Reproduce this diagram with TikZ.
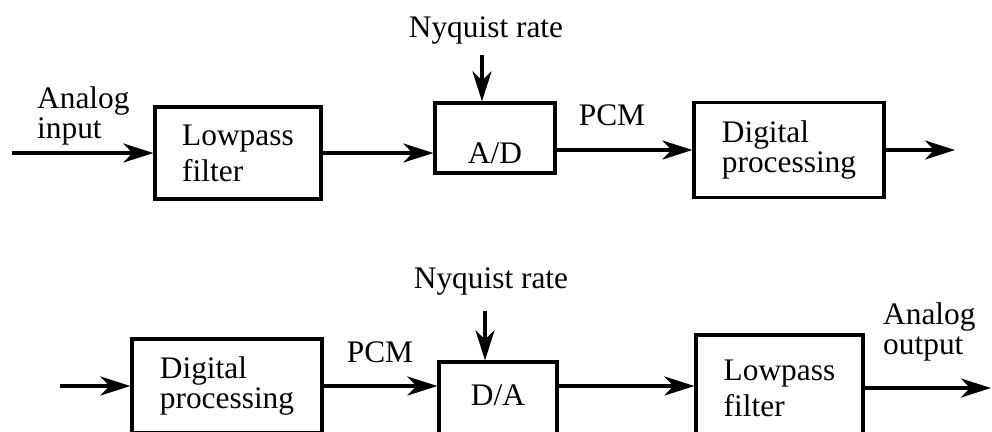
\documentclass[tikz,border=0pt]{standalone}
\usepackage{fontspec}
\setmainfont{Liberation Serif}
\usetikzlibrary{arrows.meta, positioning, calc}
\tikzset{
    blk/.style={rectangle, draw=black, line width=3.2bp, inner sep=0pt, font=\fontsize{31.5}{31}\selectfont},
    lpf/.style={blk, align=left, font=\fontsize{31.5}{36}\selectfont},
    lbl/.style={align=left, inner sep=0pt, font=\fontsize{31.5}{30}\selectfont},
    arr/.style={-{Stealth[length=30bp, width=19bp, inset=9bp]}, line width=3.6bp, black}
}

\begin{document}
\begin{tikzpicture}[x=1bp, y=-1bp]
  \useasboundingbox (0,0) rectangle (992,431);
  \clip (0,0) rectangle (992,431);
  % sampling side
  \node[lpf, minimum width=166bp, minimum height=92bp] (lpfA) at (238,153) {Lowpass\\filter};
  \node[blk, minimum width=120bp, text height=60bp, text depth=10bp, anchor=base] (adc) at (495,163) {A/D};
  \node[blk, align=left, minimum width=190bp, minimum height=95bp] (dspA) at (789,150) {Digital\\processing};
  \node[lbl, anchor=base] (nyqA) at (486,37) {Nyquist rate};
  \node[lbl, anchor=base] (pcmA) at (612,125) {PCM};
  \node[lbl, anchor=west] (ainLbl) at (37,116) {Analog\\input};
  \coordinate (inA) at (12,153);
  \coordinate (outA) at (955,150);
  \draw[arr] (inA) -- (lpfA.west);
  \draw[arr] (lpfA) -- (lpfA -| adc.west);
  \draw[arr] (adc.east |- dspA) -- (dspA.west);
  \draw[arr] (dspA.east) -- (outA);
  \draw[arr] ([xshift=-13bp,yshift=46bp]adc.north) -- ([xshift=-13bp]adc.north);
  % reconstruction side
  \node[blk, align=left, minimum width=190bp, minimum height=94bp] (dspB) at (227,386) {Digital\\processing};
  \node[blk, minimum width=118bp, text height=43bp, text depth=35bp, anchor=base] (dac) at (498,405) {D/A};
  \node[lpf, minimum width=167bp, minimum height=106bp] (lpfB) at (779.5,388) {Lowpass\\filter};
  \node[lbl, anchor=base] (nyqB) at (491,288) {Nyquist rate};
  \node[lbl, anchor=base] (pcmB) at (380,362) {PCM};
  \node[lbl, anchor=west] (aoutLbl) at (883,332) {Analog\\output};
  \coordinate (inB) at (60,386);
  \coordinate (outB) at (991,388);
  \draw[arr] (inB) -- (inB -| dspB.west);
  \draw[arr] (dspB) -- (dspB -| dac.west);
  \draw[arr] (dspB -| dac.east) -- (dspB -| lpfB.west);
  \draw[arr] (lpfB) -- (outB);
  \draw[arr] ([xshift=-13bp,yshift=49bp]dac.north) -- ([xshift=-13bp]dac.north);
\end{tikzpicture}
\end{document}
